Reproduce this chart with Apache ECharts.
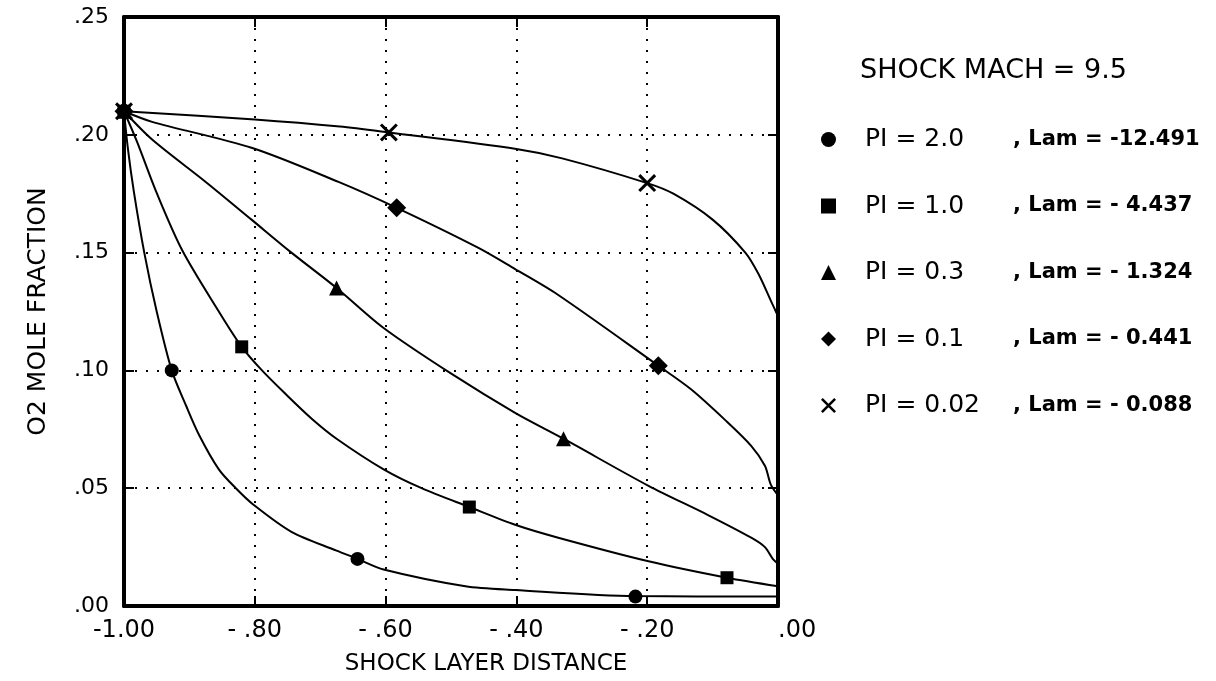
<!DOCTYPE html>
<html>
<head>
<meta charset="utf-8">
<script src="https://cdn.jsdelivr.net/npm/echarts@6/dist/echarts.min.js"></script>
<style>html,body{margin:0;padding:0;background:#fff}#c{width:1216px;height:681px}</style>
</head>
<body>
<div id="c"></div>
<script>
// ---- data ----
const xTickLabels = ['-1.00', '- .80', '- .60', '- .40', '- .20', '.00'];
const yTickLabels = ['.00', '.05', '.10', '.15', '.20', '.25'];
const piLabels = ['PI = 2.0', 'PI = 1.0', 'PI = 0.3', 'PI = 0.1', 'PI = 0.02'];
const lamLabels = [', Lam = -12.491', ', Lam = - 4.437', ', Lam = - 1.324', ', Lam = - 0.441', ', Lam = - 0.088'];

const curvePI2 = [[-1.00,0.210],[-0.994,0.194],[-0.985,0.176],[-0.969,0.150],[-0.950,0.125],[-0.927,0.100],[-0.905,0.085],[-0.885,0.0725],[-0.855,0.058],[-0.829,0.050],[-0.802,0.043],[-0.744,0.0315],[-0.675,0.0235],[-0.643,0.020],[-0.603,0.0155],[-0.478,0.0084],[-0.402,0.0068],[-0.218,0.0042],[0.00,0.0040]];
const curvePI1 = [[-1.00,0.210],[-0.980,0.197],[-0.951,0.176],[-0.911,0.151],[-0.855,0.125],[-0.820,0.110],[-0.789,0.100],[-0.753,0.090],[-0.713,0.0795],[-0.675,0.071],[-0.603,0.058],[-0.545,0.050],[-0.472,0.042],[-0.402,0.0345],[-0.336,0.029],[-0.198,0.019],[-0.078,0.012],[0.00,0.0084]];
const curvePI03 = [[-1.00,0.210],[-0.957,0.198],[-0.875,0.180],[-0.805,0.164],[-0.744,0.150],[-0.675,0.135],[-0.603,0.118],[-0.499,0.0985],[-0.402,0.082],[-0.328,0.071],[-0.198,0.051],[-0.107,0.0386],[-0.041,0.029],[-0.020,0.025],[-0.008,0.020],[0.00,0.018]];
const curvePI01 = [[-1.00,0.210],[-0.957,0.2055],[-0.805,0.1945],[-0.672,0.180],[-0.583,0.169],[-0.458,0.152],[-0.402,0.143],[-0.336,0.132],[-0.183,0.102],[-0.133,0.092],[-0.081,0.079],[-0.041,0.068],[-0.020,0.0595],[-0.011,0.0515],[0.00,0.047]];
const curvePI002 = [[-1.00,0.210],[-0.80,0.2065],[-0.67,0.2035],[-0.595,0.201],[-0.40,0.194],[-0.33,0.190],[-0.20,0.1795],[-0.16,0.175],[-0.10,0.164],[-0.05,0.150],[-0.03,0.141],[-0.01,0.129],[0.00,0.123]];

const markPI2 = [[-1.00,0.210],[-0.927,0.100],[-0.643,0.020],[-0.218,0.004]];
const markPI1 = [[-1.00,0.210],[-0.820,0.110],[-0.472,0.042],[-0.078,0.012]];
const markPI03 = [[-1.00,0.210],[-0.675,0.135],[-0.328,0.071]];
const markPI01 = [[-1.00,0.210],[-0.583,0.169],[-0.183,0.102]];
const markPI002 = [[-1.00,0.210],[-0.595,0.201],[-0.20,0.1795]];

// ---- chart ----
const FONT = 'DejaVu Sans';
const curves = [curvePI2, curvePI1, curvePI03, curvePI01, curvePI002];
const marks = [markPI2, markPI1, markPI03, markPI01, markPI002];
const symbols = ['circle', 'rect', 'triangle', 'diamond',
  'path://M0,1.2 L1.2,0 L10,8.8 L8.8,10 Z M8.8,0 L10,1.2 L1.2,10 L0,8.8 Z'];
const symSizes = [14, 13, 15, 19, 18];

const series = [];
curves.forEach((c, i) => {
  series.push({
    type: 'line', name: 'curve' + i, data: c, smooth: 0.3,
    showSymbol: false, symbol: 'none',
    lineStyle: { color: '#000', width: 2 }, silent: true, z: 3
  });
});
marks.forEach((m, i) => {
  series.push({
    type: 'scatter', name: piLabels[i], data: m, symbol: symbols[i], symbolSize: symSizes[i],
    itemStyle: { color: '#000', opacity: 1 }, z: 5
  });
});

const axisLineStyle = { color: '#000', width: 4 };
const tickStyle = { show: true, inside: true, length: 10, lineStyle: { color: '#000', width: 2 } };
const gridDots = { show: true, lineStyle: { color: '#000', width: 2, type: [2, 9] } };

const option = {
  backgroundColor: '#fff',
  animation: false,
  title: {
    text: 'SHOCK MACH = 9.5', left: 855, top: 52,
    textStyle: { fontSize: 27, fontWeight: 'normal', fontFamily: FONT, color: '#000' }
  },
  legend: {
    orient: 'vertical', left: 816, top: 122, itemWidth: 15, itemHeight: 15, itemGap: 41.5,
    data: piLabels, selectedMode: false,
    formatter: function (name) {
      const i = piLabels.indexOf(name);
      return '{a|' + name + '}{b|' + lamLabels[i] + '}';
    },
    textStyle: {
      color: '#000',
      rich: {
        a: { fontSize: 25, fontFamily: FONT, color: '#000', width: 148, padding: [0, 0, 0, 24], lineHeight: 28 },
        b: { fontSize: 21, fontFamily: FONT, fontWeight: 'bold', color: '#000', lineHeight: 28 }
      }
    }
  },
  grid: { left: 124, right: 438, top: 17, bottom: 69, containLabel: false },
  xAxis: [{
    type: 'value', position: 'bottom', min: -1, max: 0, interval: 0.2,
    axisLine: { show: true, onZero: false, lineStyle: axisLineStyle },
    axisTick: tickStyle,
    axisLabel: {
      color: '#000', fontSize: 24, fontFamily: FONT, margin: 13, alignMaxLabel: 'left',
      formatter: v => xTickLabels[Math.round((v + 1) / 0.2)]
    },
    splitLine: gridDots,
    name: 'SHOCK LAYER DISTANCE', nameLocation: 'middle', nameGap: 47,
    nameTextStyle: { color: '#000', fontSize: 23, fontFamily: FONT, padding: [0, 0, 0, 70] }
  }, {
    type: 'value', position: 'top', min: -1, max: 0, interval: 0.2,
    axisLine: { show: true, onZero: false, lineStyle: axisLineStyle },
    axisTick: tickStyle, axisLabel: { show: false }, splitLine: { show: false }
  }],
  yAxis: [{
    type: 'value', position: 'left', min: 0, max: 0.25, interval: 0.05,
    axisLine: { show: true, onZero: false, lineStyle: axisLineStyle },
    axisTick: tickStyle,
    axisLabel: {
      color: '#000', fontSize: 22, fontFamily: FONT, margin: 15,
      formatter: v => yTickLabels[Math.round(v / 0.05)]
    },
    splitLine: gridDots,
    name: 'O2 MOLE FRACTION', nameLocation: 'middle', nameRotate: 90, nameGap: 73,
    nameTextStyle: { color: '#000', fontSize: 25, fontFamily: FONT }
  }, {
    type: 'value', position: 'right', min: 0, max: 0.25, interval: 0.05,
    axisLine: { show: true, onZero: false, lineStyle: axisLineStyle },
    axisTick: tickStyle, axisLabel: { show: false }, splitLine: { show: false }
  }],
  series: series
};

const chart = echarts.init(document.getElementById('c'), null, { renderer: 'canvas' });
chart.setOption(option);
</script>
</body>
</html>
